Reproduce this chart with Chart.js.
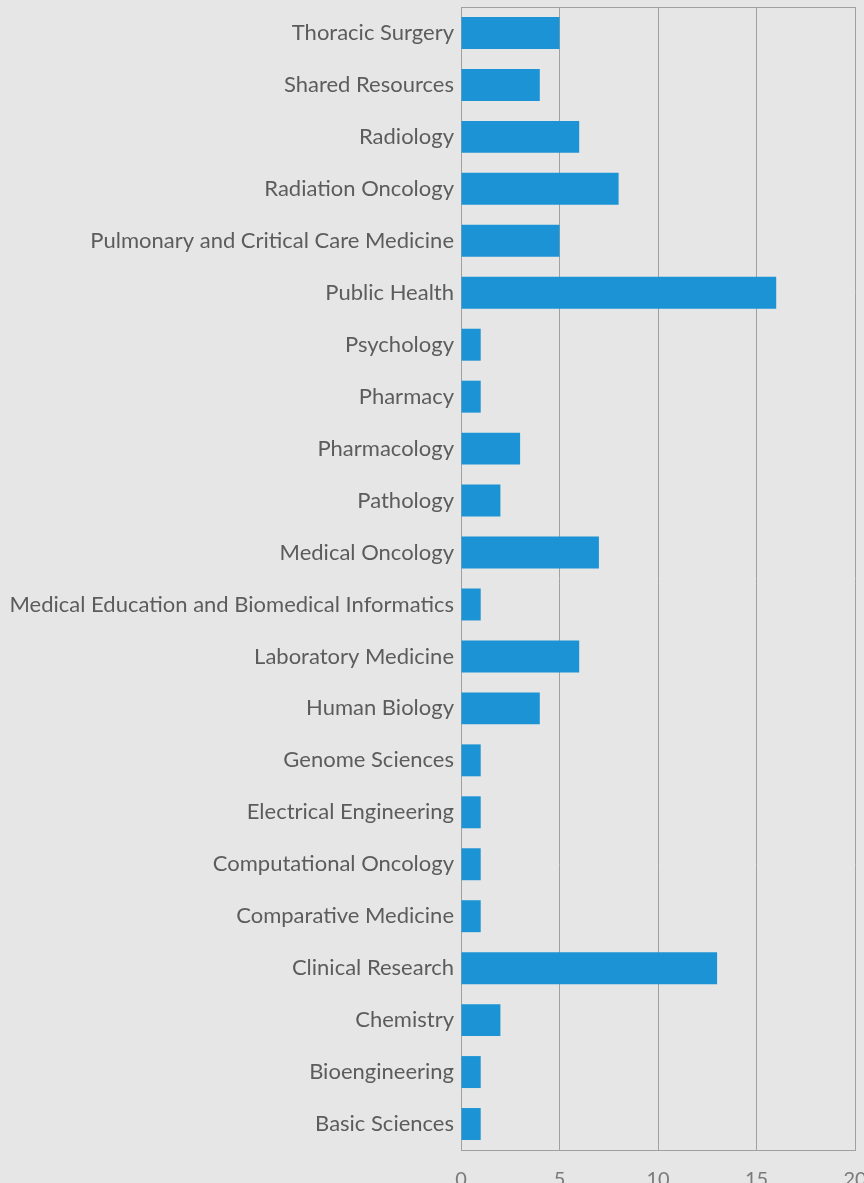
<!DOCTYPE html>
<html>
<head>
<meta charset="utf-8">
<script src="https://cdn.jsdelivr.net/npm/chart.js@4.4.1/dist/chart.umd.min.js"></script>
<style>
  html, body { margin: 0; padding: 0; background: #e6e6e6; overflow: hidden; }
  #wrap { width: 864px; height: 1183px; overflow: hidden; }
  canvas { display: block; }
</style>
</head>
<body>
<div id="wrap"><canvas id="chart" width="864" height="1183"></canvas></div>
<script>
// Departments, listed top to bottom
const departments = [
  "Thoracic Surgery",
  "Shared Resources",
  "Radiology",
  "Radiation Oncology",
  "Pulmonary and Critical Care Medicine",
  "Public Health",
  "Psychology",
  "Pharmacy",
  "Pharmacology",
  "Pathology",
  "Medical Oncology",
  "Medical Education and Biomedical Informatics",
  "Laboratory Medicine",
  "Human Biology",
  "Genome Sciences",
  "Electrical Engineering",
  "Computational Oncology",
  "Comparative Medicine",
  "Clinical Research",
  "Chemistry",
  "Bioengineering",
  "Basic Sciences"
];

// Count per department
const counts = [5, 4, 6, 8, 5, 16, 1, 1, 3, 2, 7, 1, 6, 4, 1, 1, 1, 1, 13, 2, 1, 1];

// Value axis range and step
const axisMin = 0;
const axisMax = 20;
const axisStep = 5;

const gridColor = "#a0a0a0";
const labelColor = "#5c5c5c";
const fontFamily = "Lato, 'Open Sans', sans-serif";

new Chart(document.getElementById("chart"), {
  type: "bar",
  data: {
    labels: departments,
    datasets: [{
      data: counts,
      backgroundColor: "#1b93d4",
      borderWidth: 0,
      categoryPercentage: 1.0,
      barPercentage: 0.615
    }]
  },
  options: {
    indexAxis: "y",
    responsive: false,
    devicePixelRatio: 1,
    animation: false,
    layout: { padding: { top: 7, right: 9, bottom: 0, left: 0 } },
    plugins: {
      legend: { display: false },
      tooltip: { enabled: false }
    },
    scales: {
      x: {
        position: "bottom",
        min: axisMin,
        max: axisMax,
        ticks: {
          stepSize: axisStep,
          padding: 18,
          color: "#7a7a7a",
          font: { family: fontFamily, size: 20 }
        },
        grid: { color: gridColor, lineWidth: 1, drawTicks: false },
        border: { display: true, color: gridColor, width: 1 },
        afterFit(scale) {
          // let the last tick label run past the edge instead of shrinking the plot
          scale.paddingLeft = 0;
          scale.paddingRight = 0;
          scale.height = 33;
        }
      },
      xTop: {
        position: "top",
        min: axisMin,
        max: axisMax,
        ticks: { display: false },
        grid: { display: false },
        border: { display: true, color: gridColor, width: 1 },
        afterFit(scale) {
          scale.height = 0;
          scale.paddingLeft = 0;
          scale.paddingRight = 0;
        }
      },
      y: {
        ticks: {
          padding: 7,
          color: labelColor,
          font: { family: fontFamily, size: 22 }
        },
        grid: { display: false, drawTicks: false },
        border: { display: true, color: gridColor, width: 1 },
        afterFit(scale) {
          scale.width = 461;
          scale.paddingTop = 0;
          scale.paddingBottom = 0;
        }
      }
    }
  }
});
</script>
</body>
</html>
